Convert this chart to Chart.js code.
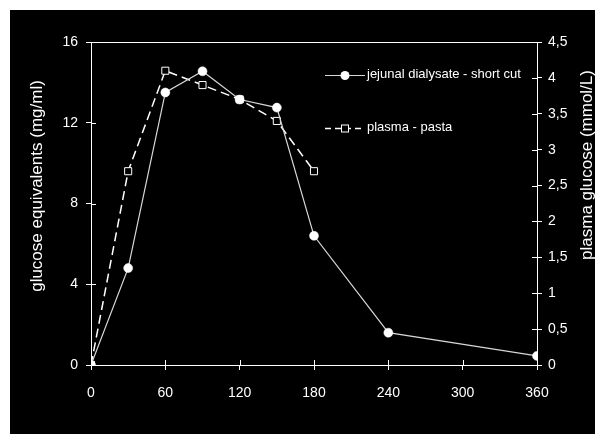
<!DOCTYPE html>
<html><head><meta charset="utf-8">
<script src="https://cdn.jsdelivr.net/npm/chart.js@4/dist/chart.umd.min.js"></script>
<style>html,body{margin:0;padding:0;background:#fff;}#wrap{width:595px;height:434px;position:relative}</style>
</head><body><div id="wrap"><canvas id="c" width="595" height="434"></canvas></div>
<script>
// ---- data ----
const times = [0, 30, 60, 90, 120, 150, 180, 240, 360];
const jejunalDialysate = [0, 4.8, 13.5, 14.55, 13.15, 12.75, 6.4, 1.6, 0.45];
const plasmaTimes = [0, 30, 60, 90, 120, 150, 180];
const plasmaPasta = [0, 2.7, 4.1, 3.9, 3.7, 3.4, 2.7];
const xTicks = [0, 60, 120, 180, 240, 300, 360];
const leftTicks = [0, 4, 8, 12, 16];
const rightTicks = [0, 0.5, 1, 1.5, 2, 2.5, 3, 3.5, 4, 4.5];
const seriesNames = ['jejunal dialysate - short cut', 'plasma - pasta'];
const leftTitle = 'glucose equivalents (mg/ml)';
const rightTitle = 'plasma glucose (mmol/L)';

const FONT = "'Liberation Sans', Arial, sans-serif";
const fmt = v => String(v).replace('.', ',');

const bgPlugin = {
  id: 'bg',
  beforeDraw(chart) {
    const c = chart.ctx;
    c.save();
    c.fillStyle = '#fff';
    c.fillRect(0, 0, chart.width, chart.height);
    c.fillStyle = '#000';
    c.fillRect(10, 10, chart.width - 10, chart.height - 10);
    c.restore();
  }
};

const decoPlugin = {
  id: 'deco',
  afterDraw(chart) {
    const c = chart.ctx;
    const a = chart.chartArea;
    c.save();
    c.strokeStyle = '#fff';
    c.lineWidth = 1;
    // top frame line
    c.beginPath();
    c.moveTo(Math.round(a.left) + 0.5, Math.round(a.top) + 0.5);
    c.lineTo(Math.round(a.right) + 0.5, Math.round(a.top) + 0.5);
    c.stroke();
    // inward tick halves
    const xs = chart.scales.x, yl = chart.scales.y, yr = chart.scales.y1;
    c.beginPath();
    xTicks.forEach(v => {
      const px = Math.round(xs.getPixelForValue(v)) + 0.5;
      c.moveTo(px, a.bottom); c.lineTo(px, a.bottom - 5);
    });
    leftTicks.forEach(v => {
      const py = Math.round(yl.getPixelForValue(v)) + 0.5;
      c.moveTo(a.left, py); c.lineTo(a.left + 5, py);
    });
    rightTicks.forEach(v => {
      const py = Math.round(yr.getPixelForValue(v)) + 0.5;
      c.moveTo(a.right, py); c.lineTo(a.right - 5, py);
    });
    c.stroke();

    // axis titles
    c.fillStyle = '#fff';
    c.font = '17px ' + FONT;
    c.textAlign = 'center';
    c.textBaseline = 'middle';
    c.save(); c.translate(37, 186); c.rotate(-Math.PI / 2); c.fillText(leftTitle, 0, 0); c.restore();
    c.save(); c.translate(587, 165); c.rotate(-Math.PI / 2); c.fillText(rightTitle, 0, 0); c.restore();

    // legend
    const ds = chart.data.datasets;
    c.font = '13px ' + FONT;
    c.textAlign = 'left';
    // item 1
    c.strokeStyle = ds[0].borderColor; c.lineWidth = 1.2; c.setLineDash([]);
    c.beginPath(); c.moveTo(325, 75.5); c.lineTo(365, 75.5); c.stroke();
    c.fillStyle = '#fff';
    c.beginPath(); c.arc(345, 75.5, 4.5, 0, Math.PI * 2); c.fill();
    c.fillText(seriesNames[0], 367, 74);
    // item 2
    c.strokeStyle = '#fff'; c.lineWidth = 1.5; c.setLineDash([6, 4]);
    c.beginPath(); c.moveTo(325, 128.5); c.lineTo(365, 128.5); c.stroke();
    c.setLineDash([]); c.lineWidth = 1;
    c.fillStyle = '#000';
    c.fillRect(341.5, 125, 7, 7);
    c.strokeRect(341.5, 125, 7, 7);
    c.fillStyle = '#fff';
    c.fillText(seriesNames[1], 367, 127);
    c.restore();
  }
};

new Chart(document.getElementById('c'), {
  type: 'line',
  data: {
    datasets: [
      {
        label: seriesNames[0],
        data: times.map((t, i) => ({ x: t, y: jejunalDialysate[i] })),
        yAxisID: 'y',
        borderColor: '#d8d8d8',
        borderWidth: 1.2,
        pointStyle: 'circle',
        pointRadius: 4.5,
        pointBackgroundColor: '#fff',
        pointBorderColor: '#fff',
        pointBorderWidth: 0.5,
        tension: 0,
        fill: false
      },
      {
        label: seriesNames[1],
        data: plasmaTimes.map((t, i) => ({ x: t, y: plasmaPasta[i] })),
        yAxisID: 'y1',
        borderColor: '#fff',
        borderWidth: 1.5,
        borderDash: [9, 5],
        pointStyle: 'rect',
        pointRadius: 5,
        pointBackgroundColor: plasmaPasta.map((v, i) => i === 0 ? '#fff' : '#000'),
        pointBorderColor: '#fff',
        pointBorderWidth: 1,
        tension: 0,
        fill: false
      }
    ]
  },
  options: {
    responsive: false,
    devicePixelRatio: 1,
    animation: false,
    layout: { padding: { top: 42, left: 0, right: 0, bottom: 0 } },
    plugins: { legend: { display: false }, tooltip: { enabled: false } },
    scales: {
      x: {
        type: 'linear', position: 'bottom', min: 0, max: 360,
        afterBuildTicks: s => { s.ticks = xTicks.map(v => ({ value: v })); },
        afterFit: s => { s.height = 69; },
        grid: { drawOnChartArea: false, drawTicks: true, tickLength: 5, color: '#fff' },
        border: { display: true, color: '#fff', width: 1 },
        ticks: { color: '#fff', font: { family: FONT, size: 14 }, padding: 15, maxRotation: 0 }
      },
      y: {
        type: 'linear', position: 'left', min: 0, max: 16,
        afterBuildTicks: s => { s.ticks = leftTicks.map(v => ({ value: v })); },
        afterFit: s => { s.width = 91; },
        grid: { drawOnChartArea: false, drawTicks: true, tickLength: 5, color: '#fff' },
        border: { display: true, color: '#fff', width: 1 },
        ticks: { color: '#fff', font: { family: FONT, size: 14 }, padding: 8 }
      },
      y1: {
        type: 'linear', position: 'right', min: 0, max: 4.5,
        afterBuildTicks: s => { s.ticks = rightTicks.map(v => ({ value: v })); },
        afterFit: s => { s.width = 58; },
        grid: { drawOnChartArea: false, drawTicks: true, tickLength: 5, color: '#fff' },
        border: { display: true, color: '#fff', width: 1 },
        ticks: { color: '#fff', font: { family: FONT, size: 14 }, padding: 6, callback: v => fmt(v) }
      }
    }
  },
  plugins: [bgPlugin, decoPlugin]
});
</script>
</body></html>
